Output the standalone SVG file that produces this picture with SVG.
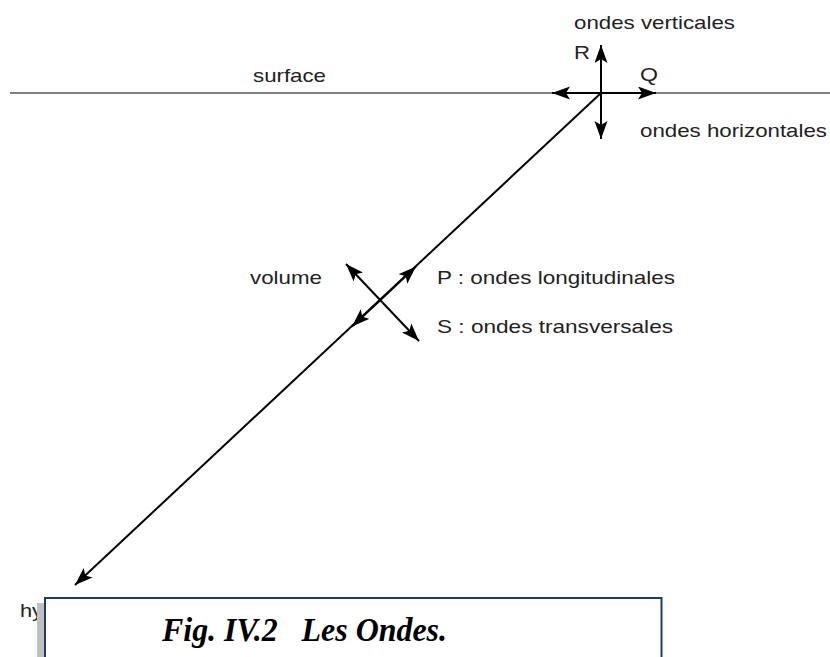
<svg xmlns="http://www.w3.org/2000/svg" width="830" height="657" viewBox="0 0 830 657">
<style>
.lbl{font-family:"Liberation Sans",Arial,sans-serif;font-size:18.5px;fill:#222}
.ln{stroke:#000;stroke-width:2;fill:none}
.cap{font-family:"Liberation Serif","Times New Roman",serif;font-size:33px;font-weight:bold;font-style:italic;fill:#000}
</style>
<defs>
<marker id="ah" markerUnits="userSpaceOnUse" markerWidth="20" markerHeight="14" refX="18" refY="6.5" orient="auto">
<path d="M0,0 L18,6.5 L0,13 L4,6.5 z" fill="#000"/>
</marker>
</defs>
<rect width="830" height="657" fill="#fff"/>
<line x1="10" y1="93" x2="830" y2="93" stroke="#808080" stroke-width="2"/>
<g id="connectors">
<line class="ln" x1="601" y1="93" x2="601" y2="45" marker-end="url(#ah)"/>
<line class="ln" x1="601" y1="93" x2="601" y2="139" marker-end="url(#ah)"/>
<line class="ln" x1="601" y1="93" x2="656" y2="93" marker-end="url(#ah)"/>
<line class="ln" x1="601" y1="93" x2="552" y2="93" marker-end="url(#ah)"/>
<line class="ln" x1="601" y1="93" x2="75" y2="585" marker-end="url(#ah)"/>
<line class="ln" x1="382" y1="298.4" x2="416" y2="266.6" marker-end="url(#ah)"/>
<line class="ln" x1="382" y1="298.4" x2="352" y2="326.4" marker-end="url(#ah)"/>
<line class="ln" x1="382.5" y1="302.5" x2="346" y2="264" marker-end="url(#ah)"/>
<line class="ln" x1="382.5" y1="302.5" x2="419" y2="341" marker-end="url(#ah)"/>
</g>
<g id="surface"><text class="lbl" x="253" y="82" textLength="73" lengthAdjust="spacingAndGlyphs">surface</text></g>
<g id="verticales"><text class="lbl" x="574" y="29" textLength="161" lengthAdjust="spacingAndGlyphs">ondes verticales</text></g>
<g id="R"><text class="lbl" x="574" y="59" textLength="16" lengthAdjust="spacingAndGlyphs">R</text></g>
<g id="Q"><text class="lbl" x="640" y="81" textLength="18" lengthAdjust="spacingAndGlyphs">Q</text></g>
<g id="horizontales"><text class="lbl" x="640" y="137" textLength="187" lengthAdjust="spacingAndGlyphs">ondes horizontales</text></g>
<g id="volume"><text class="lbl" x="250" y="284" textLength="72" lengthAdjust="spacingAndGlyphs">volume</text></g>
<g id="P"><text class="lbl" x="437" y="284" textLength="238" lengthAdjust="spacingAndGlyphs">P : ondes longitudinales</text></g>
<g id="S"><text class="lbl" x="437" y="333" textLength="236" lengthAdjust="spacingAndGlyphs">S : ondes transversales</text></g>
<g id="hypocentre"><text class="lbl" x="20" y="617" textLength="23" lengthAdjust="spacingAndGlyphs">hy</text></g>
<g id="caption">
<rect x="37" y="603" width="7" height="60" fill="#c0c0c0"/>
<rect x="45" y="598" width="616.5" height="70" fill="#fff" stroke="#1b3d6d" stroke-width="2"/>
<text class="cap" x="162" y="641" textLength="285" lengthAdjust="spacingAndGlyphs" xml:space="preserve">Fig. IV.2   Les Ondes.</text>
</g>
</svg>
